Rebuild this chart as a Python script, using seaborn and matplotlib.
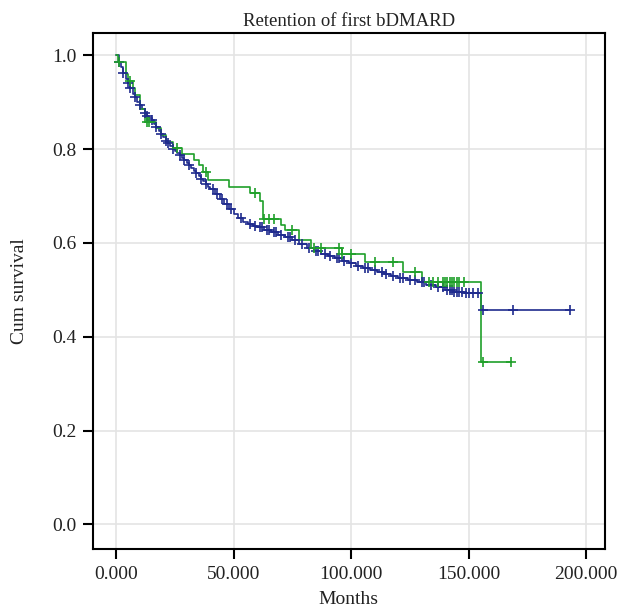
import numpy as np
import pandas as pd
import matplotlib
matplotlib.use("Agg")
import matplotlib.pyplot as plt
import seaborn as sns

# step times / cumulative survival, group 1 (blue)
blue_t = [0, 1, 2, 3, 4, 5, 6, 7, 8, 9, 10, 11, 12, 13, 14, 15, 16, 17, 18, 19, 20,
          21, 22, 23, 24, 25, 26, 27, 28, 29, 30, 31, 32, 33, 34, 35, 36, 37, 38, 39, 40,
          42, 44, 46, 48, 50, 52, 54, 56, 58, 60, 63, 66, 69, 72, 75, 78, 81, 84, 87, 90,
          93, 96, 99, 102, 105, 108, 111, 114, 117, 120, 124, 128, 132, 136, 140, 144, 148,
          155.5, 193]
blue_s = [1.000, 0.985, 0.975, 0.962, 0.950, 0.940, 0.930, 0.918, 0.910, 0.900, 0.893,
          0.885, 0.876, 0.870, 0.866, 0.862, 0.853, 0.846, 0.838, 0.831, 0.825,
          0.818, 0.812, 0.806, 0.800, 0.796, 0.792, 0.787, 0.781, 0.776, 0.771, 0.766,
          0.760, 0.754, 0.748, 0.742, 0.737, 0.731, 0.726, 0.720, 0.714,
          0.704, 0.694, 0.683, 0.673, 0.662, 0.652, 0.645, 0.640, 0.636, 0.633, 0.628,
          0.623, 0.617, 0.612, 0.605, 0.598, 0.590, 0.583, 0.577, 0.572,
          0.567, 0.561, 0.556, 0.551, 0.547, 0.542, 0.538, 0.533, 0.529, 0.526, 0.520,
          0.516, 0.511, 0.506, 0.500, 0.496, 0.493, 0.457, 0.457]
blue_cens = [1, 3, 5, 6, 8, 10, 12, 13, 15, 17, 19, 21, 22, 24, 27, 29, 31, 34, 36, 38,
             41, 43, 45, 47, 49, 53, 57, 59, 61, 62, 64, 65, 67, 68, 70, 73, 74, 76, 79,
             82, 85, 86, 89, 91, 94, 95, 97, 100, 103, 106, 107, 110, 113, 115, 118, 121,
             122, 125, 127, 130, 131, 134, 137, 139, 141, 142, 143, 144, 145, 146, 147,
             149, 150, 152, 154, 156, 169, 193]

# group 2 (green)
green_t = [0, 0.8, 4, 5, 7, 8, 10, 12, 17, 19, 21, 24, 28, 33, 35, 37, 39, 48, 57, 61,
           62.5, 70, 72, 78, 83, 96, 106, 122, 130, 155.5, 168]
green_s = [1.000, 0.985, 0.960, 0.945, 0.930, 0.915, 0.885, 0.857, 0.845, 0.830, 0.815,
           0.803, 0.790, 0.776, 0.765, 0.750, 0.733, 0.719, 0.706, 0.690,
           0.650, 0.638, 0.627, 0.605, 0.590, 0.576, 0.559, 0.538, 0.517, 0.345, 0.345]
green_cens = [1, 6, 13, 14, 26, 38, 59, 63, 65, 67, 75, 84, 87, 95, 96, 100, 110, 118,
              127, 133, 135, 137, 139, 140, 141, 142, 143, 144, 145, 146, 148, 156, 168]

x_ticks = [0, 50, 100, 150, 200]
y_ticks = [0.0, 0.2, 0.4, 0.6, 0.8, 1.0]

sns.set_theme(style="whitegrid")
plt.rcParams["font.family"] = ["Liberation Serif"]

fig = plt.figure(figsize=(6.19, 6.13), dpi=100)
ax = fig.add_axes([0.150, 0.104, 0.827, 0.842])

groups = [("blue", blue_t, blue_s, blue_cens, "#1f2b8e"),
          ("green", green_t, green_s, green_cens, "#1fa02a")]
for name, t, s, cens, col in groups:
    df = pd.DataFrame({"t": t, "s": s})
    sns.lineplot(data=df, x="t", y="s", drawstyle="steps-post", color=col,
                 linewidth=1.2, ax=ax, estimator=None)
    idx = np.searchsorted(np.array(t), np.array(cens), side="right") - 1
    cdf = pd.DataFrame({"t": cens, "s": np.array(s)[idx]})
    sns.scatterplot(data=cdf, x="t", y="s", marker="+", color=col, s=60,
                    linewidth=1.2, ax=ax, zorder=3)

ax.set_xlim(-10, 208)
ax.set_ylim(-0.053, 1.047)
ax.set_xticks(x_ticks)
ax.set_xticklabels([f"{v:.3f}" for v in x_ticks])
ax.set_yticks(y_ticks)
ax.set_yticklabels([f"{v:.1f}" for v in y_ticks])
ax.grid(color="#e4e4e4", linewidth=1.2)
for sp in ax.spines.values():
    sp.set_color("black")
    sp.set_linewidth(1.5)
ax.tick_params(axis="both", direction="out", length=7, width=1.5, color="black",
               labelsize=14, labelcolor="#222222", bottom=True, left=True, pad=5)
ax.set_xlabel("Months", fontsize=14, color="#222222", labelpad=6)
ax.set_ylabel("Cum survival", fontsize=14, color="#222222", labelpad=17)
ax.set_title("Retention of first bDMARD", fontsize=13.5, color="#222222", pad=5)

fig.savefig("out.png", dpi=100)
